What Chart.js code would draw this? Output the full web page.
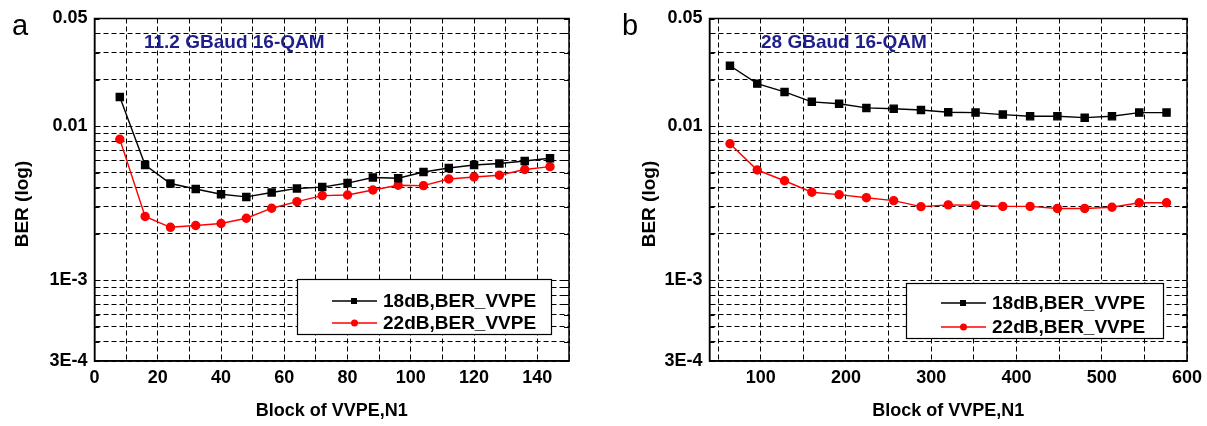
<!DOCTYPE html>
<html>
<head>
<meta charset="utf-8">
<title>BER vs VVPE block</title>
<script src="https://cdn.jsdelivr.net/npm/chart.js@4.4.0/dist/chart.umd.min.js"></script>
<style>
  html, body { margin: 0; padding: 0; background: #fff; }
  #wrap { position: relative; width: 1207px; height: 426px; }
  .panel { position: absolute; top: 0; height: 426px; }
  #pa { left: 0; width: 603px; }
  #pb { left: 603px; width: 604px; }
</style>
</head>
<body>
<div id="wrap">
  <div class="panel" id="pa"><canvas id="chartA" width="603" height="426"></canvas></div>
  <div class="panel" id="pb"><canvas id="chartB" width="604" height="426"></canvas></div>
</div>
<script>
// panel a : 11.2 GBaud
const blocksA = [8, 16, 24, 32, 40, 48, 56, 64, 72, 80, 88, 96, 104, 112, 120, 128, 136, 144];
const ber18A = [0.0155, 0.0056, 0.00425, 0.00392, 0.00362, 0.00348, 0.00372, 0.00395, 0.00403,
                0.00428, 0.00465, 0.0046, 0.00505, 0.00536, 0.0056, 0.00573, 0.00595, 0.0062];
const ber22A = [0.00823, 0.0026, 0.00221, 0.00227, 0.00234, 0.00253, 0.00294, 0.00324, 0.00355,
                0.00358, 0.00386, 0.00414, 0.00412, 0.00455, 0.00469, 0.00481, 0.00524, 0.00547];

// panel b : 28 GBaud
const blocksB = [64, 96, 128, 160, 192, 224, 256, 288, 320, 352, 384, 416, 448, 480, 512, 544, 576];
const ber18B = [0.0247, 0.0189, 0.0167, 0.0144, 0.014, 0.01315, 0.013, 0.01276, 0.01233,
                0.01226, 0.0119, 0.0116, 0.0116, 0.01137, 0.0116, 0.01226, 0.01226];
const ber22B = [0.0077, 0.0052, 0.00443, 0.00373, 0.0036, 0.00344, 0.00329, 0.00301, 0.00309,
                0.00308, 0.00302, 0.00302, 0.00293, 0.00293, 0.00298, 0.00319, 0.00319];

const seriesNames = ["18dB,BER_VVPE", "22dB,BER_VVPE"];
const titles = ["11.2 GBaud 16-QAM", "28 GBaud 16-QAM"];

// y grid (log) and the few values that get a label
const yGridVals = [3e-4, 4e-4, 5e-4, 6e-4, 7e-4, 8e-4, 9e-4, 1e-3, 2e-3, 3e-3, 4e-3, 5e-3,
                   6e-3, 7e-3, 8e-3, 9e-3, 0.01, 0.02, 0.03, 0.04, 0.05];
const yLabelVals = [3e-4, 1e-3, 0.01, 0.05];
const yLabelText = ["3E-4", "1E-3", "0.01", "0.05"];

const xTicksA = [0, 10, 20, 30, 40, 50, 60, 70, 80, 90, 100, 110, 120, 130, 140, 150];
const xTicksB = [40, 50, 100, 150, 200, 250, 300, 350, 400, 450, 500, 550, 600];

const FONT = "'Liberation Sans', Arial, sans-serif";

function yLabel(v) {
  for (let i = 0; i < yLabelVals.length; i++) {
    if (Math.abs(v - yLabelVals[i]) / yLabelVals[i] < 1e-6) return yLabelText[i];
  }
  return "";
}

// frame, inner ticks, y title, panel letter, annotation and legend
const decorPlugin = {
  id: "decor",
  afterDraw(chart, args, o) {
    const ctx = chart.ctx;
    const a = chart.chartArea;
    const ys = chart.scales.y;
    ctx.save();
    ctx.strokeStyle = "#000";
    ctx.lineWidth = 1.5;
    ctx.strokeRect(a.left, a.top, a.right - a.left, a.bottom - a.top);

    ctx.lineWidth = 1;
    ctx.beginPath();
    yGridVals.forEach((v) => {
      const y = Math.round(ys.getPixelForValue(v)) + 0.5;
      ctx.moveTo(a.left, y); ctx.lineTo(a.left + 5, y);
      ctx.moveTo(a.right, y); ctx.lineTo(a.right - 5, y);
    });
    ctx.stroke();

    // y axis title (sits a bit below the middle of the axis)
    ctx.fillStyle = "#000";
    ctx.font = "bold 19px " + FONT;
    ctx.textAlign = "center";
    ctx.textBaseline = "middle";
    ctx.translate(o.yTitleX, 204);
    ctx.rotate(-Math.PI / 2);
    ctx.fillText("BER (log)", 0, 0);
    ctx.setTransform(1, 0, 0, 1, 0, 0);

    // panel letter
    ctx.font = "29px " + FONT;
    ctx.textBaseline = "alphabetic";
    ctx.textAlign = "left";
    ctx.fillText(o.letter, o.letterX, 35);

    // annotation
    ctx.fillStyle = "#1f1f8c";
    ctx.font = "bold 19px " + FONT;
    ctx.textBaseline = "middle";
    ctx.fillText(o.title, o.titleX, 43);

    // legend
    const L = o.legend;
    ctx.fillStyle = "#fff";
    ctx.fillRect(L.x, L.y, L.w, L.h);
    ctx.strokeStyle = "#000";
    ctx.lineWidth = 1.2;
    ctx.strokeRect(L.x + 0.5, L.y + 0.5, L.w, L.h);
    chart.data.datasets.forEach((ds, i) => {
      const ry = L.y + L.rows[i];
      ctx.strokeStyle = ds.borderColor;
      ctx.lineWidth = 1.3;
      ctx.beginPath();
      ctx.moveTo(L.x + 35, ry);
      ctx.lineTo(L.x + 80, ry);
      ctx.stroke();
      ctx.fillStyle = ds.pointBackgroundColor;
      if (ds.pointStyle === "rect") {
        ctx.fillRect(L.x + 54, ry - 3, 6, 6);
      } else {
        ctx.beginPath();
        ctx.arc(L.x + 57.5, ry, 3.5, 0, Math.PI * 2);
        ctx.fill();
      }
      ctx.fillStyle = "#000";
      ctx.font = "bold 19px " + FONT;
      ctx.textBaseline = "middle";
      ctx.fillText(ds.label, L.x + 86, ry + 1);
    });
    ctx.restore();
  }
};

function makeChart(id, xs, s18, s22, xMin, xMax, xTicks, xLabelStep, lay, deco) {
  return new Chart(document.getElementById(id), {
    type: "line",
    data: {
      datasets: [
        {
          label: seriesNames[0],
          data: xs.map((x, i) => ({ x: x, y: s18[i] })),
          borderColor: "#000",
          backgroundColor: "#000",
          pointBackgroundColor: "#000",
          pointBorderColor: "#000",
          pointStyle: "rect",
          pointRadius: 5,
          borderWidth: 1.4,
          tension: 0
        },
        {
          label: seriesNames[1],
          data: xs.map((x, i) => ({ x: x, y: s22[i] })),
          borderColor: "#ff0000",
          backgroundColor: "#ff0000",
          pointBackgroundColor: "#ff0000",
          pointBorderColor: "#ff0000",
          pointStyle: "circle",
          pointRadius: 4,
          borderWidth: 1.4,
          tension: 0
        }
      ]
    },
    options: {
      responsive: false,
      animation: false,
      layout: { padding: { left: lay.padL, right: lay.padR, top: 18.5, bottom: 0 } },
      plugins: {
        legend: { display: false },
        tooltip: { enabled: false },
        decor: deco
      },
      scales: {
        x: {
          type: "linear",
          min: xMin,
          max: xMax,
          afterBuildTicks: (s) => { s.ticks = xTicks.map((v) => ({ value: v })); },
          afterFit: (s) => { s.height = 65; s.paddingLeft = 0; s.paddingRight = 0; },
          ticks: {
            autoSkip: false,
            maxRotation: 0,
            padding: 6,
            color: "#000",
            font: { family: FONT, size: 18, weight: "bold" },
            callback: (v) => (v % xLabelStep === 0 ? String(v) : "")
          },
          grid: { color: "#000", lineWidth: 1, drawTicks: false },
          border: { display: true, color: "#000", width: 1.5, dash: [5, 3] },
          title: {
            display: true,
            text: "Block of VVPE,N1",
            color: "#000",
            font: { family: FONT, size: 18, weight: "bold" },
            padding: { top: 0, bottom: 4 }
          }
        },
        y: {
          type: "logarithmic",
          min: 3e-4,
          max: 0.05,
          afterBuildTicks: (s) => { s.ticks = yGridVals.map((v) => ({ value: v })); },
          afterFit: (s) => { s.width = lay.yW; s.paddingTop = 0; s.paddingBottom = 0; },
          ticks: {
            autoSkip: false,
            padding: 7,
            color: "#000",
            font: { family: FONT, size: 18, weight: "bold" },
            callback: (v) => yLabel(v)
          },
          grid: { color: "#000", lineWidth: 1, drawTicks: false },
          border: { display: true, color: "#000", width: 1.5, dash: [5, 3] },
          title: { display: false }
        }
      }
    },
    plugins: [decorPlugin]
  });
}

makeChart("chartA", blocksA, ber18A, ber22A, 0, 150, xTicksA, 20,
  { padL: 12, padR: 34, yW: 82.5 },
  { letter: "a", letterX: 12, yTitleX: 23, title: titles[0], titleX: 144,
    legend: { x: 297, y: 279, w: 254, h: 55, rows: [22, 44] } });

makeChart("chartB", blocksB, ber18B, ber22B, 40, 600, xTicksB, 100,
  { padL: 54, padR: 20, yW: 52.5 },
  { letter: "b", letterX: 19, yTitleX: 47, title: titles[1], titleX: 158,
    legend: { x: 303, y: 283, w: 257, h: 55, rows: [20, 44] } });
</script>
</body>
</html>
